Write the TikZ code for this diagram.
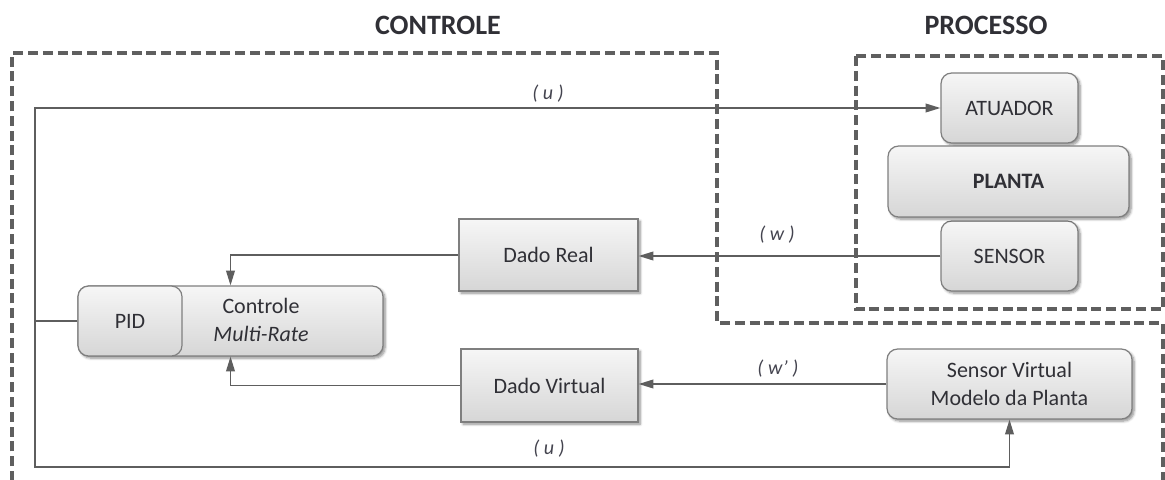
\documentclass[tikz,border=0pt]{standalone}
\usepackage{fontspec}
\setmainfont{Carlito}
\usetikzlibrary{arrows.meta,shadows.blur,calc}
\definecolor{dashgray}{HTML}{5F5F5F}
\definecolor{linegray}{HTML}{5E5E5E}
\definecolor{boxedge}{HTML}{7F7F7F}
\definecolor{boxtop}{HTML}{F6F6F6}
\definecolor{boxbot}{HTML}{D6D6D6}
\definecolor{txt}{HTML}{303036}
\definecolor{lbl}{HTML}{44444F}
\begin{document}
\begin{tikzpicture}[x=0.75pt,y=-0.75pt,
  plain/.style={draw=boxedge, line width=0.9pt, top color=boxtop, bottom color=boxbot,
    text=txt, font=\fontsize{16.5}{21}\selectfont, align=center, inner sep=0pt},
  block/.style={plain,
    blur shadow={shadow xshift=1.6pt, shadow yshift=-1.6pt, shadow blur steps=6, shadow opacity=45}},
  rblock/.style={block, rounded corners=8pt},
  zone/.style={draw=dashgray, line width=2.4pt, dash pattern=on 7.5pt off 3.6pt},
  wire/.style={draw=linegray, line width=1.1pt},
  flow/.style={wire, -{Triangle[length=11pt,width=6.5pt]}},
  title/.style={text=txt, font=\bfseries\fontsize{21}{24}\selectfont},
  signal/.style={text=lbl, font=\itshape\fontsize{15}{17}\selectfont}
]
\useasboundingbox (0,0) rectangle (1165,479);

% dashed zones
\draw[zone] (12,481) -- (12,53) -- (717,53) -- (717,323) -- (1163,323) -- (1163,481);
\draw[zone] (856,56) rectangle (1163,309);

% titles
\node[title] (tctrl) at (438,25) {CONTROLE};
\node[title] (tproc) at (986,25) {PROCESSO};

% process blocks
\node[rblock, minimum width=102.75pt, minimum height=52.5pt] (atu) at (1009.5,108) {ATUADOR};
\node[rblock, minimum width=102.75pt, minimum height=52.5pt] (sen) at (1009.5,256) {SENSOR};
\node[rblock, minimum width=180.75pt, minimum height=53.25pt, font=\bfseries\fontsize{16.5}{21}\selectfont] (pla) at (1008.5,181.5) {PLANTA};

% control blocks
\node[block, minimum width=134.25pt, minimum height=54pt] (dr) at (548.5,255) {Dado Real};
\node[block, minimum width=132.75pt, minimum height=54.75pt] (dv) at (549.5,385.5) {Dado Virtual};
\node[rblock, minimum width=183.75pt, minimum height=52.5pt] (sv) at (1009.5,384) {Sensor Virtual\\Modelo da Planta};
\node[rblock, minimum width=228.75pt, minimum height=52.5pt] (ctrl) at (230.5,321) {};
\node[plain, rounded corners=8pt, minimum width=78pt, minimum height=52.5pt] (pid) at (130,321) {PID};
\node[text=txt, font=\fontsize{16.5}{21}\selectfont, align=center] (ctxt) at (261,320) {Controle\\\textit{Multi-Rate}};

% signal labels
\node[signal] (lu1) at (548,94) {( u )};
\node[signal] (lw) at (777,235) {( w )};
\node[signal] (lw2) at (778,369) {( w’ )};
\node[signal] (lu2) at (549,449) {( u )};

% connectors
\coordinate (j) at (35,321);
\coordinate (b) at (35,467);
\draw[wire] (pid.west) -- (j);
\draw[flow] (j) |- (atu.west);
\draw[flow] (j) -- (b) -| (sv.south);
\draw[flow] (sen.west) -- (sen.west -| dr.east);
\draw[flow] (dr.west) -| (ctrl.north);
\draw[flow] (sv.west) -- (sv.west -| dv.east);
\draw[flow] (dv.west) -| (ctrl.south);
\end{tikzpicture}
\end{document}
